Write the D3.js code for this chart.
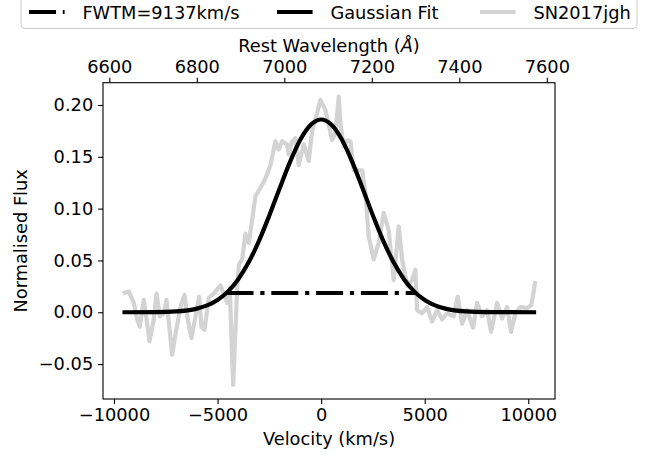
<!DOCTYPE html>
<html>
  <head>
    <meta charset="utf-8">
    <title>SN2017jgh Gaussian Fit</title>
    <script src="https://d3js.org/d3.v7.min.js"></script>
    <style>
      body { margin: 0; background: #fff; }
      text { font-family: "DejaVu Sans", sans-serif; fill: #000; }
    </style>
  </head>
  <body>
    <svg width="652" height="454"></svg>

    <script>
      // ====================================
      // DATA
      // ====================================

      // observed spectrum, SN2017jgh
      const velocity = [-9575, -9285, -9044, -8880, -8754, -8561, -8431, -8286, -8079, -7948,
        -7789, -7596, -7466, -7191, -6998, -6790, -6597, -6438, -6259, -6066,
        -5888, -5777, -5632, -5424, -5183, -4860, -4700, -4536, -4411, -4247,
        -4054, -3967, -3813, -3653, -3494, -3330, -3171, -2847, -2688, -2447,
        -2206, -2046, -1882, -1641, -1564, -1400, -1240, -1081, -840, -598,
        -434, -193, -34, 208, 531, 690, 849, 931, 1091, 1269,
        1414, 1573, 1979, 2138, 2297, 2538, 2780, 3021, 3262, 3504,
        3745, 3909, 4150, 4392, 4551, 4633, 4874, 5116, 5357, 5598,
        5840, 6081, 6399, 6592, 6805, 7046, 7336, 7529, 7770, 8011,
        8204, 8494, 8735, 8976, 9169, 9377, 9618, 9942, 10149, 10342];
      const flux = [0.018, 0.020, 0.009, -0.007, -0.014, 0.012, -0.006, -0.028, -0.007, 0.018,
        -0.004, -0.001, 0.012, -0.041, -0.017, 0.005, 0.017, -0.007, -0.025, -0.004,
        0.015, -0.014, -0.017, 0.014, 0.018, 0.026, 0.018, 0.009, 0.023, -0.070,
        0.022, 0.046, 0.051, 0.076, 0.067, 0.089, 0.112, 0.123, 0.129, 0.142,
        0.165, 0.157, 0.165, 0.162, 0.152, 0.165, 0.168, 0.142, 0.162, 0.146,
        0.175, 0.192, 0.205, 0.195, 0.166, 0.173, 0.208, 0.182, 0.160, 0.166,
        0.165, 0.137, 0.137, 0.115, 0.073, 0.051, 0.067, 0.096, 0.079, 0.031,
        0.083, 0.051, 0.026, 0.031, 0.041, 0.002, -0.001, 0.005, -0.009, 0.002,
        -0.007, -0.001, -0.004, 0.015, -0.011, 0.002, -0.015, 0.009, -0.004, 0.002,
        -0.019, 0.009, -0.006, 0.005, -0.019, -0.001, 0.005, 0.004, 0.007, 0.030];

      // gaussian fit curve
      const fitVelocity = [-9590, -8000, -7000, -6000, -5500, -5000, -4500, -4000, -3500, -3000,
        -2500, -2000, -1500, -1000, -500, 0, 500, 1000, 1500, 2000,
        2500, 3000, 3500, 4000, 4500, 5000, 5500, 6000, 7000, 8000, 10380];
      const fitFlux = [0, 0.0002, 0.0008, 0.0035, 0.0066, 0.0118, 0.0199, 0.0319, 0.0482, 0.0689,
        0.0934, 0.1197, 0.1451, 0.1666, 0.1809, 0.186, 0.1809, 0.1666, 0.1451, 0.1197,
        0.0934, 0.0689, 0.0482, 0.0319, 0.0199, 0.0118, 0.0066, 0.0035, 0.0008, 0.0002, 0];

      // full width at tenth maximum
      const fwtmVelocity = [-4568, 4569];
      const fwtmFlux = [0.0186, 0.0186];

      const legendLabels = ["FWTM=9137km/s", "Gaussian Fit", "SN2017jgh"];

      const velocityTicks = [-10000, -5000, 0, 5000, 10000];
      const fluxTicks = [-0.05, 0, 0.05, 0.10, 0.15, 0.20];
      const wavelengthTicks = [6600, 6800, 7000, 7200, 7400, 7600];

      // ====================================
      // SCALES
      // ====================================
      const svg = d3.select("svg");
      const mLeft = 103, mRight = 555, mTop = 82.7, mBottom = 399;
      const fs = "17.8px";

      const x = d3.scaleLinear().domain([-10530, 11290]).range([mLeft, mRight]);
      const y = d3.scaleLinear().domain([-0.0837, 0.2215]).range([mBottom, mTop]);
      const xTop = d3.scaleLinear().domain([6585.6, 7618.7]).range([mLeft, mRight]);

      svg.append("clipPath").attr("id", "plot")
        .append("rect")
        .attr("x", mLeft).attr("y", mTop)
        .attr("width", mRight - mLeft).attr("height", mBottom - mTop);

      const plot = svg.append("g").attr("clip-path", "url(#plot)");

      const line = d3.line()
        .x(d => x(d[0]))
        .y(d => y(d[1]));

      // spectrum
      plot.append("path")
        .datum(d3.zip(velocity, flux))
        .attr("d", line)
        .attr("fill", "none")
        .attr("stroke", "#d3d3d3")
        .attr("stroke-width", 4.2)
        .attr("stroke-linejoin", "round");

      // gaussian fit
      plot.append("path")
        .datum(d3.zip(fitVelocity, fitFlux))
        .attr("d", line.curve(d3.curveMonotoneX))
        .attr("fill", "none")
        .attr("stroke", "#000")
        .attr("stroke-width", 4.2);

      // FWTM
      plot.append("path")
        .datum(d3.zip(fwtmVelocity, fwtmFlux))
        .attr("d", line.curve(d3.curveLinear))
        .attr("fill", "none")
        .attr("stroke", "#000")
        .attr("stroke-width", 4.2)
        .attr("stroke-dasharray", "27,6.8,4.2,6.8");

      // ====================================
      // AXES
      // ====================================
      const xAxis = svg.append("g")
        .attr("transform", `translate(0,${mBottom})`)
        .call(d3.axisBottom(x).tickValues(velocityTicks).tickSize(4.9).tickPadding(4.9).tickFormat(d3.format("d")));

      const yAxis = svg.append("g")
        .attr("transform", `translate(${mLeft},0)`)
        .call(d3.axisLeft(y).tickValues(fluxTicks).tickSize(4.9).tickPadding(4.9).tickFormat(d3.format(".2f")));

      const topAxis = svg.append("g")
        .attr("transform", `translate(0,${mTop})`)
        .call(d3.axisTop(xTop).tickValues(wavelengthTicks).tickSize(4.9).tickPadding(4.9).tickFormat(d3.format("d")));

      [xAxis, yAxis, topAxis].forEach(a => {
        a.select(".domain").remove();
        a.selectAll(".tick line").attr("stroke", "#000").attr("stroke-width", 1.1);
        a.selectAll(".tick text").style("font-size", fs).style("font-family", "DejaVu Sans");
      });

      // frame
      svg.append("rect")
        .attr("x", mLeft).attr("y", mTop)
        .attr("width", mRight - mLeft).attr("height", mBottom - mTop)
        .attr("fill", "none")
        .attr("stroke", "#000")
        .attr("stroke-width", 1.1);

      // axis labels
      svg.append("text")
        .attr("x", (mLeft + mRight) / 2).attr("y", 445)
        .attr("text-anchor", "middle")
        .style("font-size", fs)
        .text("Velocity (km/s)");

      svg.append("text")
        .attr("transform", `translate(27,${(mTop + mBottom) / 2}) rotate(-90)`)
        .attr("text-anchor", "middle")
        .style("font-size", fs)
        .text("Normalised Flux");

      const topLabel = svg.append("text")
        .attr("x", (mLeft + mRight) / 2).attr("y", 52)
        .attr("text-anchor", "middle")
        .style("font-size", fs);
      topLabel.append("tspan").text("Rest Wavelength (");
      topLabel.append("tspan").style("font-style", "italic").text("Å");
      topLabel.append("tspan").text(")");

      // ====================================
      // LEGEND
      // ====================================
      svg.append("rect")
        .attr("x", 21).attr("y", -20)
        .attr("width", 616).attr("height", 48.5)
        .attr("rx", 4)
        .attr("fill", "#fff")
        .attr("fill-opacity", 0.8)
        .attr("stroke", "#cccccc")
        .attr("stroke-width", 1);

      const handleX = [29, 277, 480];
      const styles = [
        { stroke: "#000", dash: "27,6.8,4.2,6.8" },
        { stroke: "#000", dash: null },
        { stroke: "#d3d3d3", dash: null }
      ];

      const items = svg.selectAll(".legend-item")
        .data(legendLabels)
        .enter()
        .append("g")
        .attr("class", "legend-item")
        .attr("transform", (d, i) => `translate(${handleX[i]},0)`);

      items.append("line")
        .attr("x1", 0).attr("x2", 35.6)
        .attr("y1", 12).attr("y2", 12)
        .attr("stroke", (d, i) => styles[i].stroke)
        .attr("stroke-width", 4.2)
        .attr("stroke-dasharray", (d, i) => styles[i].dash);

      items.append("text")
        .attr("x", 53.4).attr("y", 18.5)
        .style("font-size", fs)
        .text(d => d);
    </script>
  </body>
</html>
